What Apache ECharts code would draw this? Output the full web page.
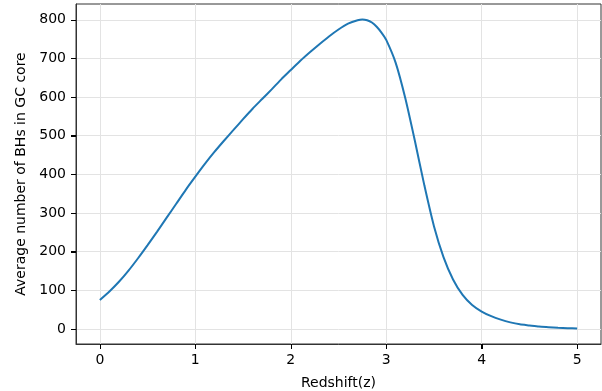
<!DOCTYPE html>
<html>
<head>
<meta charset="utf-8">
<script src="https://cdn.jsdelivr.net/npm/echarts@6/dist/echarts.min.js"></script>
<style>html,body{margin:0;padding:0;background:#fff}#c{width:602px;height:391px}</style>
</head>
<body>
<div id="c"></div>
<script>
const redshift = [0, 0.1, 0.2, 0.3, 0.4, 0.5, 0.6, 0.7, 0.8, 0.9, 1.0, 1.1, 1.2, 1.3, 1.4, 1.5, 1.6, 1.7, 1.8, 1.9, 2.0, 2.1, 2.2, 2.3, 2.4, 2.5, 2.6, 2.7, 2.75, 2.8, 2.85, 2.9, 2.95, 3.0, 3.1, 3.2, 3.3, 3.4, 3.5, 3.6, 3.7, 3.8, 3.9, 4.0, 4.1, 4.2, 4.3, 4.4, 4.5, 4.6, 4.7, 4.8, 4.9, 5.0];
const avgBH   = [75, 97, 122, 151, 183, 217, 252, 288, 324, 360, 394, 427, 458, 487, 515, 543, 570, 595, 620, 646, 670, 694, 716, 737, 757, 775, 790, 799, 801, 799, 793, 782, 767, 748, 688, 597, 487, 371, 266, 186, 128, 88, 62, 45, 33, 24, 17, 12, 9, 6, 4.5, 3, 2, 1];
const xTicks = [0, 1, 2, 3, 4, 5];
const yTicks = [0, 100, 200, 300, 400, 500, 600, 700, 800];
const xMin = -0.25, xMax = 5.25, yMin = -39, yMax = 841;

const chart = echarts.init(document.getElementById('c'), null, {renderer: 'canvas'});
const font = 'DejaVu Sans';
const TICK = 5;

function tickSeries(values, isX) {
  return {
    type: 'custom', silent: true, clip: false, z: 10,
    data: values.map(v => isX ? [v, yMin] : [xMin, v]),
    renderItem: (params, api) => {
      const p = api.coord([api.value(0), api.value(1)]);
      if (isX) {
        const x = Math.round(p[0]) + 0.5;
        return {type: 'line', shape: {x1: x, y1: p[1], x2: x, y2: p[1] + TICK}, style: {stroke: '#000', lineWidth: 1}};
      }
      const y = Math.round(p[1]) + 0.5;
      return {type: 'line', shape: {x1: p[0] - TICK, y1: y, x2: p[0], y2: y}, style: {stroke: '#000', lineWidth: 1}};
    }
  };
}

chart.setOption({
  animation: false,
  grid: {left: 76, right: 1, top: 4, bottom: 47, show: true, borderColor: '#333', borderWidth: 1, backgroundColor: 'transparent', containLabel: false, outerBoundsMode: 'none'},
  xAxis: {
    type: 'value', min: xMin, max: xMax,
    name: 'Redshift(z)', nameLocation: 'middle', nameGap: 32,
    nameTextStyle: {fontFamily: font, fontSize: 14, color: '#000'},
    axisLine: {show: true, onZero: false, lineStyle: {color: '#333', width: 1}},
    axisTick: {show: true, inside: false, length: TICK, lineStyle: {color: '#000', width: 1}, customValues: xTicks},
    axisLabel: {fontFamily: font, fontSize: 14, color: '#000', margin: 9, customValues: xTicks, formatter: v => String(v)},
    splitLine: {show: true, lineStyle: {color: '#e3e3e3', width: 1}}
  },
  yAxis: {
    type: 'value', min: yMin, max: yMax,
    name: 'Average number of BHs in GC core', nameLocation: 'middle', nameGap: 47,
    nameTextStyle: {fontFamily: font, fontSize: 14, color: '#000'},
    axisLine: {show: true, onZero: false, lineStyle: {color: '#333', width: 1}},
    axisTick: {show: true, inside: false, length: TICK, lineStyle: {color: '#000', width: 1}, customValues: yTicks},
    axisLabel: {fontFamily: font, fontSize: 14, color: '#000', margin: 10, customValues: yTicks, formatter: v => String(v)},
    splitLine: {show: true, lineStyle: {color: '#e3e3e3', width: 1}}
  },
  series: [
    {
      type: 'line', data: redshift.map((x, i) => [x, avgBH[i]]),
      smooth: 0.2, showSymbol: false, symbol: 'none',
      lineStyle: {color: '#1f77b4', width: 2}
    },
    tickSeries(xTicks, true),
    tickSeries(yTicks, false)
  ]
});
</script>
</body>
</html>
